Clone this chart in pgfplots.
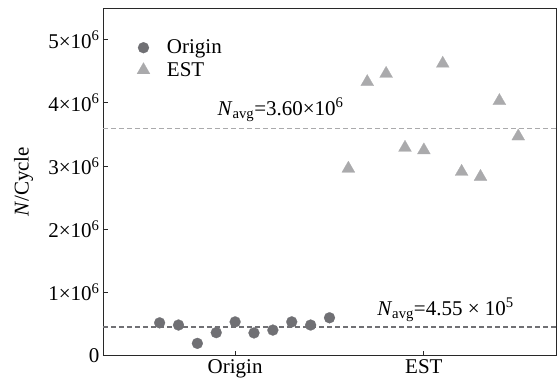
\documentclass[border=0pt]{standalone}
\usepackage{pgfplots}
\pgfplotsset{compat=1.18}
\usepackage{fontspec}
\setmainfont{Liberation Serif}
\definecolor{origc}{RGB}{112,112,116}
\definecolor{estc}{RGB}{170,170,172}
\definecolor{framec}{RGB}{40,40,40}
\newcommand{\bigf}{\fontsize{21bp}{24bp}\selectfont}
\begin{document}
\begin{tikzpicture}
\path[use as bounding box] (-103bp,-26.3bp) rectangle (454bp,355.7bp);
\begin{axis}[
  at={(0,0)}, anchor=south west,
  scale only axis, width=453bp, height=347.7bp,
  xmin=0.3, xmax=2.7, ymin=0, ymax=5.5e6,
  xtick={1,2}, xticklabels={Origin,EST},
  ytick={0,1e6,2e6,3e6,4e6,5e6},
  yticklabels={0,1×10\textsuperscript{6},2×10\textsuperscript{6},3×10\textsuperscript{6},4×10\textsuperscript{6},5×10\textsuperscript{6}},
  scaled y ticks=false,
  tick align=inside, xtick pos=bottom, ytick pos=left,
  tick style={framec, line width=0.8bp},
  major tick length=5bp,
  ticklabel style={font=\bigf},
  axis line style={framec, line width=0.9bp},
  ylabel={\textit{N}/Cycle},
  ylabel style={font=\bigf, at={(axis description cs:-0.175,0.5)}, anchor=center},
  legend style={draw=none, fill=none, font=\bigf, at={(axis description cs:0.068,0.92)}, anchor=north west, row sep=3bp,
    /tikz/every odd column/.append style={column sep=15bp}},
  legend cell align=left,
]
\addplot[forget plot, estc, line width=1.2bp, dash pattern=on 5bp off 3bp] coordinates {(0.3,3600000) (2.7,3600000)};
\addplot[forget plot, origc, line width=1.2bp, dash pattern=on 5bp off 3bp] coordinates {(0.3,455000) (2.7,455000)};
\addplot[only marks, mark=*, mark size=5.5bp, mark options={draw=origc, fill=origc, line width=0.2bp}] coordinates {
(0.6,520000) (0.7,485000) (0.8,195000) (0.9,365000) (1.0,535000)
(1.1,360000) (1.2,405000) (1.3,535000) (1.4,485000) (1.5,600000)};
\addlegendentry{Origin}
\addplot[only marks, mark=triangle*, mark size=7.5bp, mark options={draw=estc, fill=estc, line width=0.2bp}] coordinates {
(1.6,2960000) (1.7,4330000) (1.8,4460000) (1.9,3290000) (2.0,3250000)
(2.1,4620000) (2.2,2910000) (2.3,2830000) (2.4,4030000) (2.5,3470000)};
\addlegendentry{EST}
\node[anchor=base west, font=\bigf, inner sep=0pt] at (axis cs:0.906,3800000) {\textit{N}\textsubscript{avg}=3.60×10\textsuperscript{6}};
\node[anchor=base west, font=\bigf, inner sep=0pt] at (axis cs:1.752,643000) {\textit{N}\textsubscript{avg}=4.55 × 10\textsuperscript{5}};
\end{axis}
\end{tikzpicture}
\end{document}
